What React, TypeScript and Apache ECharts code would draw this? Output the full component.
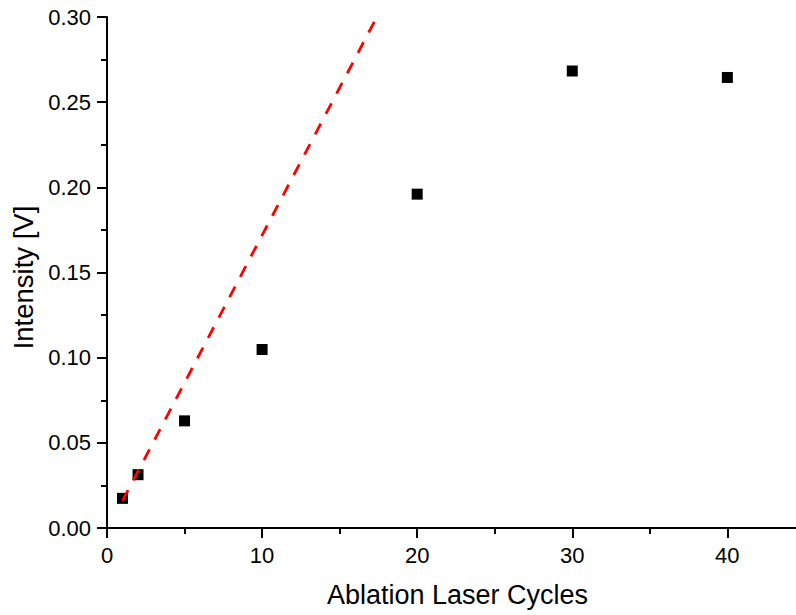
import React, { useEffect, useRef } from "react";
import * as echarts from "echarts";

// Measured intensity vs. number of ablation laser cycles
const cycles = [1, 2, 5, 10, 20, 30, 40];
const intensity = [0.0174, 0.0313, 0.0629, 0.1048, 0.196, 0.2683, 0.2645];

// Linear fit through the low-cycle region (endpoints of the dashed line)
const fitX = [1, 17.4];
const fitY = [0.016, 0.3];

const FONT = "Liberation Sans, Arial, Helvetica, sans-serif";

export default function App() {
  const ref = useRef<HTMLDivElement>(null);

  useEffect(() => {
    if (!ref.current) return;
    const chart = echarts.init(ref.current, undefined, { renderer: "svg" });
    const axisCommon = {
      axisLine: { show: true, lineStyle: { color: "#000", width: 2 } },
      axisTick: { show: true, length: 10, lineStyle: { color: "#000", width: 2 } },
      minorTick: { show: true, splitNumber: 2, length: 6, lineStyle: { color: "#000", width: 2 } },
      splitLine: { show: false },
    };
    chart.setOption({
      animation: false,
      backgroundColor: "#fff",
      // the x axis runs on past the right edge of the page
      grid: {
        left: 107,
        top: 17,
        width: 701,
        height: 511,
        containLabel: false,
        outerBoundsMode: "none",
      },
      xAxis: {
        type: "value",
        min: 0,
        max: 45.2,
        interval: 10,
        name: "Ablation Laser Cycles",
        nameLocation: "middle",
        nameGap: 53,
        nameTextStyle: { fontFamily: FONT, fontSize: 27, color: "#000" },
        ...axisCommon,
        axisLabel: {
          margin: 16,
          fontFamily: FONT,
          fontSize: 22,
          color: "#000",
          showMaxLabel: false,
          formatter: (v: number) => (v % 10 === 0 ? String(v) : ""),
        },
      },
      yAxis: {
        type: "value",
        min: 0,
        max: 0.3,
        interval: 0.05,
        name: "Intensity [V]",
        nameLocation: "middle",
        nameGap: 66,
        nameTextStyle: {
          fontFamily: FONT,
          fontSize: 27.5,
          color: "#000",
          padding: [0, 10, 0, 0],
        },
        ...axisCommon,
        axisLabel: {
          margin: 16,
          fontFamily: FONT,
          fontSize: 22,
          color: "#000",
          formatter: (v: number) => v.toFixed(2),
        },
      },
      series: [
        {
          type: "line",
          data: fitX.map((x, i) => [x, fitY[i]]),
          showSymbol: false,
          symbol: "none",
          lineStyle: { color: "#ff0000", width: 2.8, type: [12, 11] },
          z: 3,
        },
        {
          type: "scatter",
          data: cycles.map((x, i) => [x, intensity[i]]),
          symbol: "rect",
          symbolSize: 11,
          itemStyle: { color: "#000", opacity: 1 },
          z: 2,
        },
      ],
    });
    return () => chart.dispose();
  }, []);

  return <div ref={ref} style={{ width: 796, height: 615, position: "absolute", left: 0, top: 0 }} />;
}
